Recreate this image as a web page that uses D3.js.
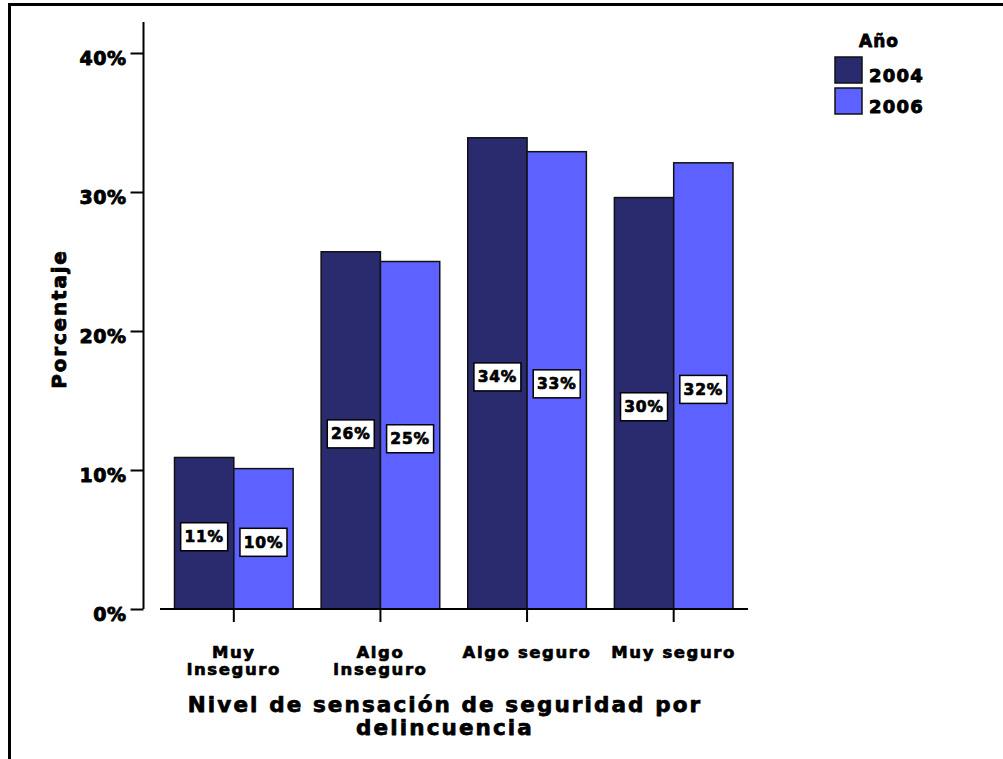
<!DOCTYPE html>
<html><head><meta charset="utf-8">
<script src="https://cdn.jsdelivr.net/npm/d3@7"></script>
<style>
body{margin:0;background:#fff;}
text{font-family:"DejaVu Sans",sans-serif;font-weight:bold;fill:#000;}
</style></head>
<body><svg id="c" width="1003" height="759"></svg>
<script>
const categories = ["Muy inseguro","Algo inseguro","Algo seguro","Muy seguro"];
const categoryLines = [["Muy","inseguro"],["Algo","inseguro"],["Algo seguro"],["Muy seguro"]];
const years = ["2004","2006"];
const values2004 = [10.9, 25.7, 33.9, 29.6];
const values2006 = [10.1, 25.0, 32.9, 32.1];
const labels2004 = ["11%","26%","34%","30%"];
const labels2006 = ["10%","25%","33%","32%"];
const yTicks = [0,10,20,30,40];
const colors = ["#2a2b6e","#5c61ff"];

const svg = d3.select("#c");
// frame
svg.append("path").attr("d","M9.5,759 L9.5,4.5 L1003,4.5").attr("fill","none").attr("stroke","#000").attr("stroke-width",3);

const x0 = d3.scaleBand().domain(categories).range([160.5,747]).paddingInner(0).paddingOuter(0);
const x1 = d3.scaleBand().domain(years).range([0, x0.bandwidth()]).paddingInner(0).paddingOuter(0.236);
const y = d3.scaleLinear().domain([0,40]).range([609,53]);

function heavy(sel, sw){ return sel.attr("stroke","#000").attr("stroke-width",sw).attr("stroke-linejoin","round"); }

// y axis
const yAxis = d3.axisLeft(y).tickValues(yTicks).tickFormat(d=>d+"%").tickSize(13).tickPadding(4);
const gy = svg.append("g").attr("transform","translate(143.5,0)").call(yAxis);
gy.select(".domain").attr("d","M0,22V609").attr("stroke","#000").attr("stroke-width",2);
gy.selectAll(".tick line").attr("stroke","#000").attr("stroke-width",2);
heavy(gy.selectAll(".tick text").style("font-size","19px").style("letter-spacing","0.5px").attr("dy","0.6em").attr("fill","#000"),0.9);

// bars
const data = categories.map((c,i)=>({c, vals:[values2004[i],values2006[i]], labs:[labels2004[i],labels2006[i]]}));
const groups = svg.append("g").selectAll("g").data(data).join("g")
  .attr("transform",d=>`translate(${x0(d.c)},0)`);
groups.selectAll("rect").data(d=>d.vals.map((v,j)=>({v,j,lab:d.labs[j]}))).join("rect")
  .attr("x",d=>x1(years[d.j])).attr("width",x1.bandwidth())
  .attr("y",d=>y(d.v)).attr("height",d=>y(0)-y(d.v))
  .attr("fill",d=>colors[d.j]).attr("stroke","#111").attr("stroke-width",1.5);
// labels
const lg = groups.selectAll("g.lab").data(d=>d.vals.map((v,j)=>({v,j,lab:d.labs[j]}))).join("g").attr("class","lab")
  .attr("transform",d=>`translate(${x1(years[d.j])+x1.bandwidth()/2},${(y(d.v)+y(0))/2+3.5})`);
lg.append("rect").attr("x",-23.5).attr("y",-14).attr("width",47).attr("height",28).attr("fill","#fff").attr("stroke","#000").attr("stroke-width",1.5);
heavy(lg.append("text").attr("text-anchor","middle").attr("dy","0.36em").style("font-size","15.5px").style("letter-spacing","0.8px"),0.7).text(d=>d.lab);

// x axis
const xAxis = d3.axisBottom(x0).tickSize(13).tickFormat("");
const gx = svg.append("g").attr("transform","translate(0,609)").call(xAxis);
gx.select(".domain").attr("d","M160,0H748").attr("stroke","#000").attr("stroke-width",2);
gx.selectAll(".tick line").attr("stroke","#000").attr("stroke-width",2);
categories.forEach((c,i)=>{
  const t = heavy(svg.append("text").attr("text-anchor","middle").style("font-size","16.5px").style("letter-spacing","1.6px"),0.7)
    .attr("x",x0(c)+x0.bandwidth()/2).attr("y",658);
  categoryLines[i].forEach((l,k)=>t.append("tspan").attr("x",x0(c)+x0.bandwidth()/2).attr("dy",k?17:0).text(l));
});

// axis titles
const xt = heavy(svg.append("text").attr("text-anchor","middle").style("font-size","21.5px").style("letter-spacing","2.1px"),0.75);
xt.append("tspan").attr("x",445).attr("y",712).text("Nivel de sensación de seguridad por");
xt.append("tspan").attr("x",445).attr("y",735).text("delincuencia");
heavy(svg.append("text").attr("text-anchor","middle").style("font-size","20px").style("letter-spacing","1.8px"),0.9)
  .attr("transform","translate(66,319) rotate(-90)").text("Porcentaje");

// legend
heavy(svg.append("text").attr("x",879).attr("y",47).attr("text-anchor","middle").style("font-size","17px").style("letter-spacing","1px"),0.8).text("Año");
const leg = svg.append("g").selectAll("g").data(years).join("g").attr("transform",(d,i)=>`translate(835,${57+i*31})`);
leg.append("rect").attr("width",27).attr("height",26).attr("fill",(d,i)=>colors[i]).attr("stroke","#111").attr("stroke-width",1.5);
heavy(leg.append("text").attr("x",34).attr("y",25).style("font-size","18px").style("letter-spacing","1.2px"),0.9).text(d=>d);
</script></body></html>
